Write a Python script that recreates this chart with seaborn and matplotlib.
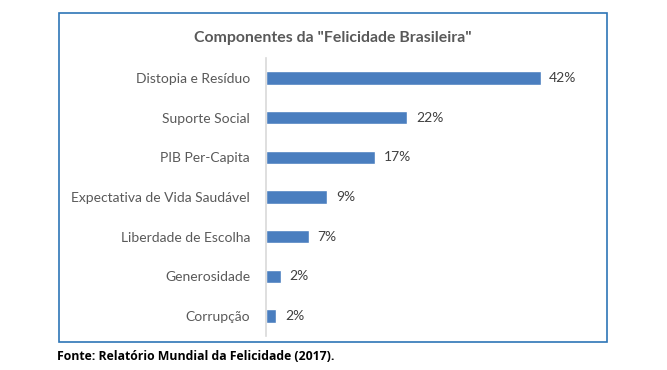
import pandas as pd
import seaborn as sns
import matplotlib.pyplot as plt
from matplotlib.patches import Rectangle

# Values (share of the Brazilian happiness score, %)
components = ['Distopia e Resíduo', 'Suporte Social', 'PIB Per-Capita',
              'Expectativa de Vida Saudável', 'Liberdade de Escolha',
              'Generosidade', 'Corrupção']
shares = [42.0, 21.6, 16.7, 9.4, 6.6, 2.3, 1.6]

data = pd.DataFrame({'Componente': components, 'Percentual': shares})

sns.set_style('white')
plt.rcParams['font.family'] = ['Lato', 'DejaVu Sans']

W, H = 667, 370
fig = plt.figure(figsize=(W / 100, H / 100), dpi=100)
ax = fig.add_axes([266 / W, 1 - 336 / H, (580 - 266) / W, (336 - 58) / H])

sns.barplot(x='Percentual', y='Componente', data=data, orient='h',
            color='#4A7EBF', width=0.34, saturation=1, ax=ax)

# Data labels
for value, bar in zip(shares, ax.patches):
    ax.text(bar.get_width() + 1.3, bar.get_y() + bar.get_height() / 2,
            '{:.0f}%'.format(value), va='center', ha='left',
            fontsize=10, color='#404040')

ax.set_xlim(0, 48)
ax.set_xlabel('')
ax.set_ylabel('')
ax.set_xticks([])
ax.tick_params(axis='y', length=0, pad=11.5, labelsize=10, labelcolor='#595959')
for side in ['top', 'right', 'bottom']:
    ax.spines[side].set_visible(False)
ax.spines['left'].set_color('#D9D9D9')
ax.spines['left'].set_linewidth(1.2)

# Chart frame and title
fig.patches.append(Rectangle((59 / W, 1 - 342 / H), (607 - 59) / W, (342 - 13) / H,
                             transform=fig.transFigure, fill=False,
                             edgecolor='#2E75B6', linewidth=1.2))
fig.text(333 / W, 1 - 38 / H, 'Componentes da "Felicidade Brasileira"',
         ha='center', va='center', fontsize=11.45, fontweight='bold', color='#595959')

# Source note
fig.text(57 / W, 1 - 356 / H, 'Fonte: Relatório Mundial da Felicidade (2017).',
         ha='left', va='center', fontsize=8.85, fontweight='bold', color='black',
         family=['Open Sans', 'DejaVu Sans'])

plt.savefig('out.png', dpi=100)
